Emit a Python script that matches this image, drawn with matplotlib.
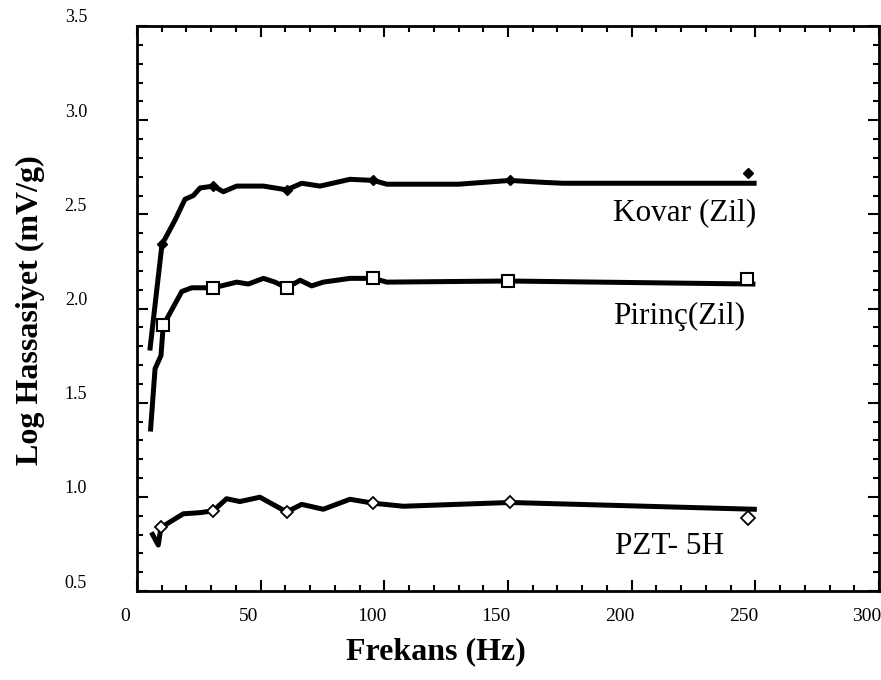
import matplotlib
matplotlib.use('Agg')
import matplotlib.pyplot as plt
from matplotlib.ticker import MultipleLocator
from matplotlib.transforms import ScaledTranslation

plt.rcParams['font.family'] = ['Liberation Serif', 'DejaVu Serif']

# Kovar (Zil)
kovar_x = [5.3, 10.1, 15.4, 19.4, 22.8, 25.5, 30.9, 34.9, 40.3, 51.1, 60.5, 66.6,
           74.0, 86.1, 95.6, 101.0, 130.0, 150.8, 164.0, 172.3, 249.5]
kovar_y = [1.79, 2.34, 2.47, 2.58, 2.60, 2.64, 2.65, 2.62, 2.65, 2.65, 2.63, 2.665,
           2.65, 2.686, 2.68, 2.66, 2.66, 2.68, 2.67, 2.665, 2.665]
kovar_mx = [10.1, 30.9, 60.5, 95.6, 150.8]
kovar_my = [2.34, 2.65, 2.63, 2.68, 2.68]
kovar_end = (247.0, 2.72)

# Pirinç (Zil)
pirinc_x = [5.5, 7.3, 9.7, 10.6, 18.1, 22.1, 30.9, 40.3, 45.0, 51.1, 55.8, 60.5,
            66.0, 70.6, 75.3, 86.1, 95.6, 101.0, 150.0, 249.0]
pirinc_y = [1.36, 1.68, 1.75, 1.91, 2.09, 2.11, 2.11, 2.14, 2.13, 2.16, 2.14, 2.11,
            2.15, 2.12, 2.14, 2.16, 2.16, 2.14, 2.146, 2.13]
pirinc_mx = [10.6, 30.9, 60.5, 95.6, 150.0]
pirinc_my = [1.91, 2.11, 2.11, 2.16, 2.146]
pirinc_end = (246.5, 2.155)

# PZT-5H
pzt_x = [6.3, 8.6, 9.7, 11.3, 18.7, 25.5, 30.9, 36.2, 41.6, 49.7, 60.5, 66.6,
         75.3, 86.1, 95.6, 107.7, 150.8, 249.6]
pzt_y = [0.80, 0.744, 0.84, 0.85, 0.91, 0.916, 0.926, 0.99, 0.975, 0.998, 0.92, 0.96,
         0.934, 0.987, 0.966, 0.95, 0.97, 0.934]
pzt_mx = [9.7, 30.9, 60.5, 95.6, 150.8]
pzt_my = [0.84, 0.926, 0.92, 0.966, 0.97]
pzt_end = (246.9, 0.89)

fig = plt.figure(figsize=(8.81, 6.80), dpi=100)
ax = fig.add_axes([137 / 881, 1 - 591 / 680, 742 / 881, 565 / 680])

lw = 3.6
ax.plot(kovar_x, kovar_y, color='black', lw=lw, solid_joinstyle='round')
ax.plot(pirinc_x, pirinc_y, color='black', lw=lw, solid_joinstyle='round')
ax.plot(pzt_x, pzt_y, color='black', lw=lw, solid_joinstyle='round')

ax.plot(kovar_mx, kovar_my, 'D', color='black', ms=5, ls='none')
ax.plot(*kovar_end, 'D', color='black', ms=5)
ax.plot(pirinc_mx, pirinc_my, 's', mfc='white', mec='black', mew=1.5, ms=9, ls='none')
ax.plot(*pirinc_end, 's', mfc='white', mec='black', mew=1.5, ms=9)
ax.plot(pzt_mx, pzt_my, 'D', mfc='white', mec='black', mew=1.3, ms=6, ls='none')
ax.plot(*pzt_end, 'D', mfc='white', mec='black', mew=1.3, ms=7)

ax.text(192.5, 2.51, 'Kovar (Zil)', fontsize=22.5, va='center', ha='left')
ax.text(192.5, 1.957, 'Pirinç(Zil)', fontsize=22.5, va='center', ha='left')
ax.text(193.3, 0.735, 'PZT- 5H', fontsize=22.5, va='center', ha='left')

ax.set_xlim(0, 300)
ax.set_ylim(0.5, 3.5)
ax.xaxis.set_major_locator(MultipleLocator(50))
ax.xaxis.set_minor_locator(MultipleLocator(10))
ax.yaxis.set_major_locator(MultipleLocator(0.5))
ax.yaxis.set_minor_locator(MultipleLocator(0.1))
ax.yaxis.set_major_formatter(lambda v, p: f'{v:.1f}')

ax.tick_params(which='both', direction='in', top=True, right=True, width=1.5)
ax.tick_params(which='major', length=8)
ax.tick_params(which='minor', length=4)
ax.tick_params(axis='x', labelsize=14, pad=12)
ax.tick_params(axis='y', labelsize=13, pad=36)
for s in ax.spines.values():
    s.set_linewidth(2)

# shift tick labels a little, as in the printed figure
for lab in ax.get_xticklabels():
    lab.set_transform(lab.get_transform() + ScaledTranslation(-12 / 100, 0, fig.dpi_scale_trans))
for lab in ax.get_yticklabels():
    lab.set_transform(lab.get_transform() + ScaledTranslation(0, 10 / 100, fig.dpi_scale_trans))

fig.text(436 / 881, 1 - 652 / 680, 'Frekans (Hz)', fontsize=23, fontweight='bold',
         ha='center', va='center')
fig.text(30 / 881, 1 - 310 / 680, 'Log Hassasiyet (mV/g)', fontsize=23, fontweight='bold',
         ha='center', va='center', rotation=90)

fig.savefig('out.png', dpi=100, facecolor='white')
